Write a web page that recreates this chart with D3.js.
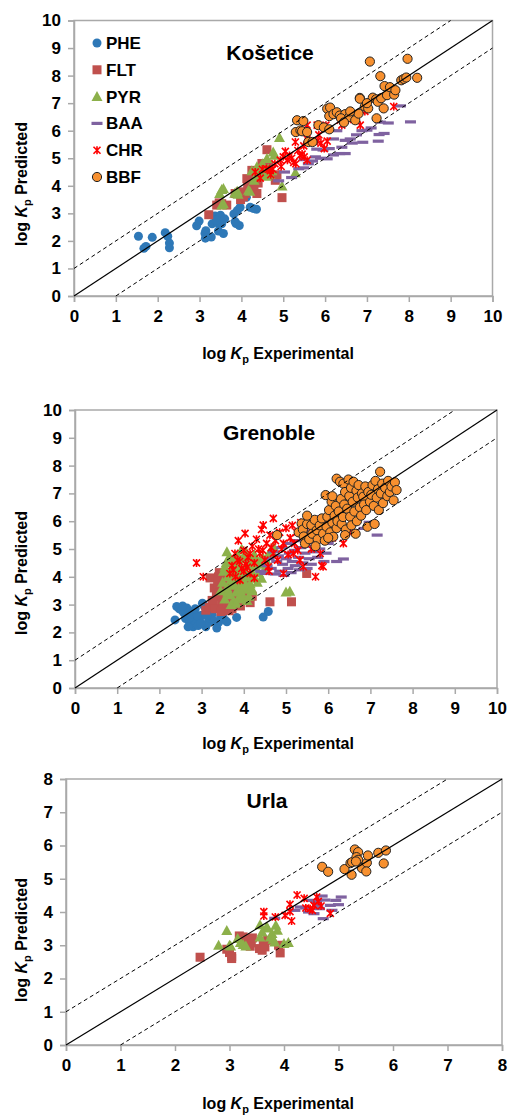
<!DOCTYPE html>
<html>
<head>
<meta charset="utf-8">
<script src="https://cdn.jsdelivr.net/npm/d3@7"></script>
<style>
  body { margin: 0; background: #fff; }
  text { font-family: "Liberation Sans", Arial, sans-serif; font-weight: bold; fill: #000; }
</style>
</head>
<body>
<svg id="chart" width="508" height="1115"></svg>
<script>
// compounds in legend order
const compounds = ["PHE", "FLT", "PYR", "BAA", "CHR", "BBF"];

// Košetice  [log Kp experimental, log Kp predicted]
const kosPHE = [[1.54,2.17],[1.67,1.73],[1.72,1.80],[1.87,2.13],[2.18,2.30],[2.24,2.17],[2.28,1.92],[2.28,1.75],[2.93,2.55],[2.99,2.72],[3.13,2.27],[3.15,2.37],[3.14,2.10],[3.28,2.14],[3.30,2.62],[3.37,2.90],[3.43,2.66],[3.50,2.93],[3.45,2.36],[3.53,2.62],[3.57,2.27],[3.60,2.80],[3.82,2.98],[3.87,2.63],[3.90,3.10],[3.95,2.56],[3.97,3.22],[4.12,3.58],[4.21,3.22],[4.28,3.18],[4.36,3.15],[3.40,2.75],[3.85,2.70]];
const kosFLT = [[3.22,2.95],[3.41,3.30],[3.47,3.38],[3.53,3.35],[3.65,3.30],[3.85,3.72],[3.97,3.78],[3.98,3.50],[4.09,3.72],[4.21,3.84],[4.37,3.72],[4.13,4.26],[4.25,4.56],[4.33,4.38],[4.49,4.81],[4.57,4.63],[4.61,5.31],[4.97,3.57],[4.81,4.20],[4.85,4.40],[4.05,3.60],[4.40,4.10],[4.30,4.00],[4.65,4.75],[4.15,3.95]];
const kosPYR = [[3.48,3.72],[3.53,3.87],[3.57,3.90],[3.57,3.35],[3.53,3.30],[3.84,3.73],[3.92,3.69],[3.90,3.80],[4.17,3.84],[4.20,3.80],[4.30,4.20],[4.37,4.69],[4.40,4.50],[4.45,4.40],[4.55,4.52],[4.60,4.35],[4.64,4.61],[4.68,4.42],[4.73,4.55],[4.61,4.99],[4.76,5.23],[4.79,5.11],[4.91,5.75],[5.29,4.47],[4.97,3.99],[4.25,4.55],[4.50,4.80]];
const kosBAA = [[4.89,4.18],[5.03,4.50],[5.37,4.62],[5.49,4.65],[5.20,4.30],[5.77,5.05],[5.89,5.00],[6.05,4.98],[6.20,5.12],[6.35,5.17],[6.48,5.17],[5.95,5.30],[5.80,5.33],[6.10,5.35],[6.48,5.65],[6.60,5.70],[6.65,5.55],[6.90,5.58],[7.27,5.62],[6.88,6.00],[7.00,6.02],[7.29,5.86],[7.41,5.90],[7.32,6.31],[7.51,6.28],[8.04,6.32],[7.80,6.90],[6.28,6.00],[6.40,5.40],[6.20,5.70],[5.60,4.80],[5.50,4.95],[6.75,5.85],[7.10,6.10],[5.70,4.90]];
const kosCHR = [[4.33,4.50],[4.45,4.28],[4.60,4.62],[4.69,4.55],[4.75,4.60],[4.93,4.93],[5.00,5.05],[5.10,4.93],[5.15,5.10],[5.20,5.00],[5.29,5.59],[5.35,5.28],[5.40,5.10],[5.45,5.15],[5.57,4.93],[5.50,5.05],[5.49,5.45],[5.60,5.62],[5.57,5.70],[5.81,5.62],[5.90,5.55],[5.98,5.35],[5.85,5.85],[6.05,5.62],[5.81,6.20],[6.02,6.20],[5.57,6.20],[6.36,6.38],[6.84,6.20],[7.64,6.88],[4.80,4.80],[4.95,4.70],[5.05,5.25],[4.70,4.40],[5.25,4.85],[4.50,4.60],[5.30,4.80],[6.40,6.20],[6.55,6.40],[6.95,6.70]];
const kosBBF = [[5.30,5.95],[5.41,6.01],[5.33,6.38],[5.48,6.35],[5.45,5.98],[5.57,5.95],[5.60,5.59],[5.70,5.59],[5.84,6.20],[5.97,6.12],[6.10,6.05],[6.05,6.80],[6.10,6.53],[6.12,6.84],[6.20,6.60],[6.28,6.67],[6.35,6.55],[6.48,6.60],[6.38,6.45],[6.58,6.50],[6.72,6.38],[6.80,6.62],[6.83,7.19],[6.83,7.16],[6.95,6.88],[7.03,6.81],[7.14,7.20],[7.22,7.14],[7.26,7.05],[7.34,7.18],[7.40,6.81],[7.23,6.45],[7.07,8.51],[7.32,7.98],[7.42,7.62],[7.48,7.29],[7.55,7.58],[7.65,7.31],[7.68,7.47],[7.82,7.83],[7.88,7.88],[7.94,7.93],[7.97,8.61],[8.20,7.92],[6.60,6.70],[7.00,7.00],[6.45,6.30]];

// Grenoble
const grePHE = [[2.37,2.45],[2.41,2.93],[2.47,2.85],[2.53,2.80],[2.58,2.70],[2.65,2.88],[2.70,2.75],[2.62,2.50],[2.72,2.35],[2.78,2.55],[2.80,2.20],[2.86,2.30],[2.92,2.25],[2.95,2.45],[3.00,2.62],[3.06,2.95],[3.02,3.05],[3.10,2.20],[3.15,2.35],[3.20,2.50],[3.25,2.65],[3.30,2.40],[3.36,2.16],[3.40,2.35],[3.45,2.55],[3.50,2.63],[3.55,2.45],[3.60,2.38],[3.83,2.54],[4.46,2.55],[4.58,2.75],[2.75,2.65],[2.90,2.60],[3.18,2.75],[2.55,2.95],[2.68,2.20],[2.85,2.85],[3.12,2.60],[2.98,2.32]];
const greFLT = [[3.10,2.80],[3.18,2.90],[3.20,3.96],[3.28,3.05],[3.32,2.85],[3.35,3.30],[3.40,4.00],[3.42,4.15],[3.45,3.60],[3.48,3.10],[3.50,2.88],[3.52,4.10],[3.55,3.45],[3.58,3.75],[3.60,2.95],[3.62,3.20],[3.65,3.85],[3.68,3.00],[3.70,3.55],[3.72,2.85],[3.75,3.35],[3.78,3.10],[3.80,4.20],[3.82,3.70],[3.85,3.25],[3.88,3.00],[3.91,3.17],[3.95,3.50],[4.03,3.90],[4.10,4.00],[4.15,3.07],[4.20,3.30],[4.62,3.10],[5.13,3.10],[5.49,4.12],[3.30,3.60],[3.38,3.75],[3.46,2.75],[3.58,3.35],[3.92,2.95],[3.25,3.15],[3.42,3.40],[3.65,2.78],[3.55,4.05],[4.00,3.30]];
const grePYR = [[3.45,3.50],[3.50,3.80],[3.52,4.20],[3.55,3.20],[3.58,4.50],[3.60,3.60],[3.62,4.00],[3.65,4.70],[3.68,3.35],[3.70,3.90],[3.72,4.30],[3.75,3.10],[3.75,4.60],[3.78,3.70],[3.80,4.10],[3.82,3.45],[3.85,4.80],[3.85,3.95],[3.88,3.25],[3.90,4.40],[3.92,3.70],[3.95,4.05],[3.95,3.40],[3.98,4.65],[4.00,3.85],[4.02,4.25],[4.05,3.55],[4.07,4.72],[4.08,3.15],[4.10,4.00],[4.12,4.45],[4.15,3.75],[4.18,4.20],[4.20,3.50],[4.22,4.55],[4.25,3.95],[4.28,4.35],[4.30,4.60],[4.32,3.80],[4.35,4.15],[4.40,4.45],[4.42,3.95],[4.45,4.70],[4.50,4.30],[4.55,4.55],[4.60,4.85],[4.65,4.95],[4.70,5.10],[5.00,3.45],[5.09,3.48],[3.60,4.90],[3.95,5.00],[4.05,4.90],[3.70,3.00],[3.98,3.20],[3.62,3.45],[3.68,4.15],[3.78,4.45],[3.82,3.05],[3.90,3.55],[3.92,4.25],[4.02,3.70],[4.05,4.40],[4.12,3.30],[4.18,3.60],[4.25,4.80],[3.72,3.75],[3.88,4.00],[3.55,4.35]];
const greBAA = [[4.40,4.20],[4.50,4.12],[4.55,4.40],[4.60,4.65],[4.65,4.30],[4.70,4.90],[4.75,4.10],[4.78,4.55],[4.82,4.75],[4.85,4.20],[4.90,5.05],[4.92,4.45],[4.95,4.05],[5.00,4.65],[5.05,4.30],[5.08,4.85],[5.10,5.20],[5.12,4.15],[5.15,4.55],[5.20,4.95],[5.22,4.40],[5.25,5.30],[5.30,4.70],[5.32,4.25],[5.35,5.05],[5.40,4.50],[5.45,4.85],[5.48,5.40],[5.50,4.30],[5.55,4.65],[5.57,5.10],[5.60,4.45],[5.65,4.90],[5.70,5.25],[5.75,4.70],[5.80,5.00],[5.85,5.55],[5.90,4.55],[5.95,4.85],[6.00,5.20],[6.05,5.45],[6.20,4.55],[6.36,4.64],[5.86,6.16],[5.95,6.05],[6.04,5.98],[6.85,5.74],[7.16,5.50],[6.97,5.96],[5.55,5.65]];
const greCHR = [[2.88,4.50],[3.04,4.00],[3.67,4.12],[3.72,4.40],[3.79,4.84],[3.85,4.60],[3.87,5.30],[3.91,3.88],[3.95,4.30],[4.00,4.95],[4.03,5.56],[4.05,4.45],[4.10,4.70],[4.15,4.84],[4.15,4.12],[4.20,5.10],[4.25,4.50],[4.30,5.35],[4.38,4.84],[4.42,5.70],[4.46,5.86],[4.50,4.60],[4.54,5.20],[4.58,4.36],[4.62,5.50],[4.70,6.10],[4.70,4.84],[4.75,5.30],[4.80,4.60],[4.85,5.60],[4.90,5.00],[4.94,5.20],[4.94,4.12],[5.00,5.75],[5.05,4.80],[5.10,5.40],[5.15,5.85],[5.17,4.84],[5.20,5.20],[5.25,5.60],[5.33,4.60],[5.35,5.95],[5.41,4.36],[5.45,5.45],[5.50,5.80],[5.60,5.00],[5.70,5.55],[5.81,4.84],[5.88,4.36],[5.95,5.70],[6.10,5.40],[6.36,5.20],[6.50,5.60],[6.56,5.92],[3.80,4.00],[4.00,4.20],[4.25,3.95],[5.85,4.40],[4.60,4.20],[4.35,5.00],[3.75,4.25],[3.90,4.55],[4.08,4.35],[4.45,4.95],[4.65,5.05],[5.70,4.00],[5.28,4.95]];
const greBBF = [[4.79,5.50],[5.30,5.60],[5.37,5.92],[5.40,5.70],[5.42,5.45],[5.45,5.20],[5.50,5.90],[5.55,5.35],[5.60,5.86],[5.62,5.55],[5.68,6.05],[5.73,5.68],[5.75,5.35],[5.80,5.85],[5.85,6.10],[5.88,5.55],[5.92,5.30],[5.94,6.94],[5.96,5.80],[5.98,6.16],[6.02,6.40],[6.05,5.60],[6.08,6.70],[6.10,5.95],[6.12,5.44],[6.15,6.20],[6.18,6.55],[6.20,7.53],[6.20,5.75],[6.22,6.00],[6.25,6.35],[6.28,7.42],[6.30,6.80],[6.32,5.90],[6.35,6.15],[6.36,7.35],[6.38,6.60],[6.40,7.05],[6.42,5.70],[6.45,6.45],[6.48,7.50],[6.50,6.90],[6.52,6.16],[6.54,7.20],[6.55,5.85],[6.58,6.70],[6.60,7.42],[6.62,6.35],[6.65,5.55],[6.67,7.10],[6.68,6.00],[6.70,6.85],[6.72,7.30],[6.75,6.50],[6.78,6.20],[6.80,7.00],[6.83,6.88],[6.85,6.60],[6.88,7.25],[6.90,6.40],[6.93,5.80],[6.95,7.05],[6.99,6.70],[7.02,6.95],[7.05,7.30],[7.08,6.55],[7.10,5.90],[7.12,7.45],[7.15,6.85],[7.18,7.15],[7.20,6.40],[7.23,7.78],[7.25,7.00],[7.28,7.35],[7.30,6.65],[7.35,7.20],[7.40,6.90],[7.42,7.45],[7.46,7.05],[7.50,7.25],[7.55,6.75],[7.58,7.40],[7.62,7.12],[6.00,5.40],[5.70,5.10],[5.50,6.20],[6.10,6.90],[6.40,5.50]];

// Urla
const urlPHE = [];
const urlFLT = [[2.46,2.64],[2.95,2.88],[3.00,2.78],[3.04,2.66],[3.04,2.60],[3.18,3.28],[3.25,3.10],[3.30,3.18],[3.38,2.97],[3.40,3.07],[3.42,3.22],[3.55,2.90],[3.60,2.85],[3.62,3.00],[3.65,2.95],[3.70,3.15],[3.90,3.00],[3.93,2.77],[3.25,3.25]];
const urlPYR = [[2.80,3.00],[2.95,3.44],[3.00,3.00],[3.02,2.98],[3.15,3.20],[3.20,3.08],[3.25,3.02],[3.30,2.98],[3.56,3.62],[3.56,3.25],[3.68,3.55],[3.70,3.52],[3.75,3.25],[3.78,3.35],[3.80,3.18],[3.85,3.60],[3.88,3.45],[3.83,3.10],[4.08,3.08],[4.00,3.05],[3.60,3.40]];
const urlBAA = [[3.83,3.81],[4.20,4.05],[4.30,4.15],[4.40,4.12],[4.45,4.00],[4.55,3.95],[4.60,4.30],[4.65,4.10],[4.70,4.48],[4.75,4.36],[4.85,4.20],[4.88,4.05],[4.95,4.35],[5.00,4.22],[5.05,4.45],[4.72,3.80],[4.50,4.35],[4.62,4.20]];
const urlCHR = [[3.63,4.01],[3.63,3.88],[3.84,3.85],[4.02,3.90],[4.11,4.23],[4.11,4.01],[4.14,3.73],[4.24,4.51],[4.37,4.41],[4.40,4.12],[4.48,4.10],[4.52,4.05],[4.55,4.20],[4.60,4.45],[4.63,4.32],[4.68,4.18],[4.85,3.96]];
const urlBBF = [[4.70,5.36],[4.81,5.21],[5.11,5.29],[5.22,5.47],[5.25,5.50],[5.24,5.12],[5.30,5.88],[5.36,5.80],[5.33,5.65],[5.36,5.57],[5.32,5.52],[5.43,5.32],[5.52,5.48],[5.51,5.22],[5.54,5.70],[5.73,5.78],[5.87,5.85],[5.83,5.46]];

const colors = { PHE: "#2E78B7", FLT: "#C0504D", PYR: "#8CB04A", BAA: "#7F62A0", CHR: "#FF0000", BBF: "#F7902F" };

const svg = d3.select("#chart");

function marker(sel, name) {
  const c = colors[name];
  if (name === "PHE") {
    sel.append("circle").attr("r", 4.5).attr("fill", c);
  } else if (name === "FLT") {
    sel.append("rect").attr("x", -4.5).attr("y", -4.5).attr("width", 9).attr("height", 9).attr("fill", c);
  } else if (name === "PYR") {
    sel.append("path").attr("d", "M0,-5.5L5.5,4.5L-5.5,4.5Z").attr("fill", c);
  } else if (name === "BAA") {
    sel.append("rect").attr("x", -5.5).attr("y", -1.6).attr("width", 11).attr("height", 3.2).attr("fill", c);
  } else if (name === "CHR") {
    sel.append("path").attr("d", "M-3.5,-3.5L3.5,3.5M-3.5,3.5L3.5,-3.5M0,-4L0,4")
      .attr("stroke", c).attr("stroke-width", 1.6).attr("fill", "none");
  } else {
    sel.append("circle").attr("r", 4.6).attr("fill", c).attr("stroke", "#222").attr("stroke-width", 1);
  }
}

function axisTitle(g, x, y, rot, tail) {
  const t = g.append("text").attr("text-anchor", "middle").attr("font-size", 16)
    .attr("transform", `translate(${x},${y}) rotate(${rot})`);
  t.append("tspan").text("log ");
  t.append("tspan").attr("font-style", "italic").text("K");
  t.append("tspan").attr("font-size", 11).attr("dy", 4).text("p");
  t.append("tspan").attr("dy", -4).text(" " + tail);
}

function drawPanel(p) {
  const x = d3.scaleLinear().domain([0, p.max]).range([p.left, p.right]);
  const y = d3.scaleLinear().domain([0, p.max]).range([p.bottom, p.top]);
  const g = svg.append("g");
  const ticks = d3.range(0, p.max + 1);

  g.append("rect").attr("x", p.left).attr("y", p.top)
    .attr("width", p.right - p.left).attr("height", p.bottom - p.top)
    .attr("fill", "none").attr("stroke", "#A9A9A9").attr("stroke-width", 1.5);

  const ax = g.append("g").attr("transform", `translate(0,${p.bottom})`)
    .call(d3.axisBottom(x).tickValues(ticks).tickSize(6).tickPadding(8).tickFormat(d3.format("d")));
  const ay = g.append("g").attr("transform", `translate(${p.left},0)`)
    .call(d3.axisLeft(y).tickValues(ticks).tickSize(6).tickPadding(7).tickFormat(d3.format("d")));
  [ax, ay].forEach(a => {
    a.select(".domain").attr("stroke", "#A9A9A9").attr("stroke-width", 1.5);
    a.selectAll(".tick line").attr("stroke", "#A9A9A9").attr("stroke-width", 1.5);
    a.selectAll(".tick text").attr("font-size", 17).attr("font-family", "Liberation Sans, Arial, sans-serif")
      .attr("font-weight", "bold").attr("fill", "#000");
  });

  // points, drawn in legend order
  compounds.forEach(name => {
    g.append("g").selectAll("g").data(p.series[name]).join("g")
      .attr("transform", d => `translate(${x(d[0])},${y(d[1])})`)
      .each(function () { marker(d3.select(this), name); });
  });

  // 1:1 line and +/- 1 log unit lines
  const lines = [
    { a: [0, 0], b: [p.max, p.max], dash: null },
    { a: [0, 1], b: [p.max - 1, p.max], dash: "4,3" },
    { a: [1, 0], b: [p.max, p.max - 1], dash: "4,3" }
  ];
  g.selectAll("line.ref").data(lines).join("line").attr("class", "ref")
    .attr("x1", d => x(d.a[0])).attr("y1", d => y(d.a[1]))
    .attr("x2", d => x(d.b[0])).attr("y2", d => y(d.b[1]))
    .attr("stroke", "#000").attr("stroke-width", d => d.dash ? 1 : 1.2)
    .attr("stroke-dasharray", d => d.dash);

  g.append("text").attr("x", p.titleX).attr("y", p.titleY).attr("text-anchor", "middle")
    .attr("font-size", 21).text(p.title);

  axisTitle(g, 278, p.xTitleY, 0, "Experimental");
  axisTitle(g, 27, p.yTitleY, -90, "Predicted");

  if (p.legend) {
    compounds.forEach((name, i) => {
      const row = g.append("g").attr("transform", `translate(97,${43 + i * 26.8})`);
      marker(row, name);
      row.append("text").attr("x", 9).attr("y", 6).attr("font-size", 17).text(name);
    });
  }
}

drawPanel({ title: "Košetice", max: 10, left: 74, right: 492.5, top: 20.5, bottom: 296,
  titleX: 270, titleY: 60, xTitleY: 359, yTitleY: 184, legend: true,
  series: { PHE: kosPHE, FLT: kosFLT, PYR: kosPYR, BAA: kosBAA, CHR: kosCHR, BBF: kosBBF } });

drawPanel({ title: "Grenoble", max: 10, left: 75, right: 497, top: 410, bottom: 688,
  titleX: 269, titleY: 440, xTitleY: 749, yTitleY: 573, legend: false,
  series: { PHE: grePHE, FLT: greFLT, PYR: grePYR, BAA: greBAA, CHR: greCHR, BBF: greBBF } });

drawPanel({ title: "Urla", max: 8, left: 66, right: 502, top: 779, bottom: 1045,
  titleX: 267, titleY: 808, xTitleY: 1109, yTitleY: 940, legend: false,
  series: { PHE: urlPHE, FLT: urlFLT, PYR: urlPYR, BAA: urlBAA, CHR: urlCHR, BBF: urlBBF } });
</script>
</body>
</html>
